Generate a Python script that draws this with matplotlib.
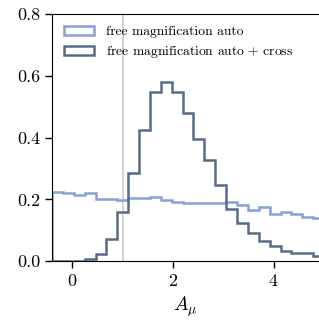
import numpy as np
import matplotlib
matplotlib.use("Agg")
import matplotlib.pyplot as plt
from matplotlib.patches import Patch

plt.rcParams['font.family'] = ['cmr10']
plt.rcParams['mathtext.fontset'] = 'cm'
plt.rcParams['axes.formatter.use_mathtext'] = True

bin_lo, bin_hi, n_bins = -0.4, 5.0, 25

auto_vals = [0.224, 0.220, 0.215, 0.220, 0.201, 0.201, 0.197, 0.204, 0.204, 0.209,
             0.198, 0.193, 0.189, 0.188, 0.188, 0.188, 0.193, 0.182, 0.166, 0.174,
             0.152, 0.158, 0.154, 0.144, 0.141]
cross_vals = [0.0, 0.0, 0.0, 0.007, 0.023, 0.071, 0.159, 0.287, 0.424, 0.546,
              0.579, 0.548, 0.481, 0.396, 0.328, 0.246, 0.168, 0.125, 0.093, 0.067,
              0.050, 0.033, 0.028, 0.026, 0.017]
labels = ['free magnification auto', r'free magnification auto$\,+\,$cross']
colors = ['#84a2d2', '#566c87']
vline_x = 1.0

edges = np.linspace(bin_lo, bin_hi, n_bins + 1)

fig = plt.figure(figsize=(3.19, 3.23), dpi=100)
ax = fig.add_axes([0.163, 0.191, 0.837, 0.766])
ax.axvline(vline_x, color='#d0d0d0', lw=1.3, zorder=0)
ax.stairs(auto_vals, edges, color=colors[0], lw=1.8)
ax.stairs(cross_vals, edges, color=colors[1], lw=1.8)

ax.set_xlim(-0.4, 4.9)
ax.set_ylim(0, 0.8)
ax.set_xticks([0, 2, 4])
ax.set_yticks([0.0, 0.2, 0.4, 0.6, 0.8])
ax.set_yticklabels(['0.0', '0.2', '0.4', '0.6', '0.8'])
ax.tick_params(direction='out', length=5, width=1, labelsize=13)
ax.spines['right'].set_visible(False)
ax.set_xlabel(r'$A_\mu$', fontsize=14, labelpad=4)

handles = [Patch(facecolor='none', edgecolor=c, lw=1.8) for c in colors]
ax.legend(handles, labels, loc='upper left', frameon=False, fontsize=9.8,
          handlelength=2.2, handleheight=0.6, labelspacing=0.45,
          handletextpad=0.85, bbox_to_anchor=(0.0, 1.0), borderaxespad=0.5)

fig.savefig('out.png', dpi=100)
